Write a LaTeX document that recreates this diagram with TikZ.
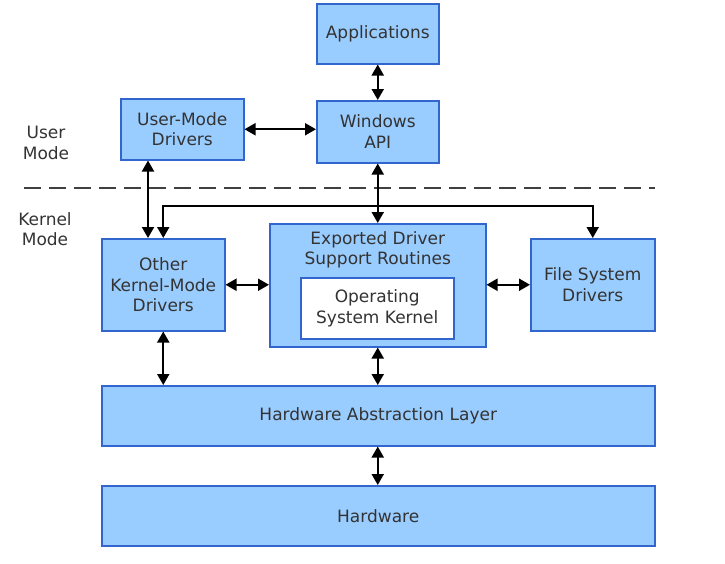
\documentclass[tikz,border=0pt]{standalone}
\usepackage{fontspec}
\setmainfont{DejaVu Sans}
\usetikzlibrary{arrows.meta,calc}
\definecolor{boxfill}{RGB}{153,204,255}
\definecolor{boxline}{RGB}{51,102,204}
\definecolor{txtc}{RGB}{51,51,51}
\definecolor{dashc}{RGB}{64,64,64}
\begin{document}
\begin{tikzpicture}[x=1pt,y=-1pt,
  box/.style={draw=boxline,fill=boxfill,line width=1.5pt,inner sep=0pt,anchor=north west,align=center,text=txtc,font=\fontsize{17}{20.5}\selectfont},
  whitebox/.style={box,fill=white},
  txt/.style={align=center,text=txtc,font=\fontsize{17}{20.5}\selectfont,inner sep=0pt},
  dbl/.style={line width=2pt,{Triangle[width=12pt,length=11pt]}-{Triangle[width=12pt,length=11pt]}}]
\useasboundingbox (0,0) rectangle (725,563);
\node[box,minimum width=122pt,minimum height=60pt] (app) at (316,3) {Applications};
\node[box,minimum width=122pt,minimum height=62pt] (win) at (316,100) {Windows\\API};
\node[box,minimum width=123pt,minimum height=61pt] (umd) at (120,98) {User-Mode\\Drivers};
\node[txt] (um) at (46,143) {User\\Mode};
\node[txt] (km) at (45,229) {Kernel\\Mode};
\coordinate (dl) at (24,188);
\coordinate (dr) at (655,188);
\draw[dashc,line width=2.8pt,dash pattern=on 17pt off 8pt] (dl) -- (dr);
\node[box,minimum width=123pt,minimum height=92pt] (okd) at (101,238) {Other\\Kernel-Mode\\Drivers};
\node[box,minimum width=216pt,minimum height=123pt] (exp) at (269,223) {};
\node[txt] (expt) at ([yshift=-27pt]exp.north) {Exported Driver\\Support Routines};
\node[whitebox,minimum width=153pt,minimum height=61pt] (osk) at (300,277) {Operating\\System Kernel};
\node[box,minimum width=124pt,minimum height=92pt] (fsd) at (530,238) {File System\\Drivers};
\node[box,minimum width=553pt,minimum height=60pt] (hal) at (101,385) {Hardware Abstraction Layer};
\node[box,minimum width=553pt,minimum height=60pt] (hw) at (101,485) {Hardware};
% connectors
\draw[dbl] (app.south) -- (win.north);
\draw[dbl] (umd.east) -- (umd.east -| win.west);
\coordinate (umdA) at ([xshift=28pt]umd.south west);
\draw[dbl] (umdA) -- (umdA |- okd.north);
\draw[dbl] (win.south) -- (exp.north);
\coordinate (jn) at ($(win.south)+(0,42)$);
\draw[dbl] (okd.north) |- (jn) -| (fsd.north);
\draw[dbl] (okd.east) -- (okd.east -| exp.west);
\draw[dbl] (fsd.west -| exp.east) -- (fsd.west);
\draw[dbl] (okd.south) -- (okd.south |- hal.north);
\draw[dbl] (exp.south) -- (exp.south |- hal.north);
\draw[dbl] (hal.south -| exp.south) -- (hw.north -| exp.south);
\end{tikzpicture}
\end{document}
